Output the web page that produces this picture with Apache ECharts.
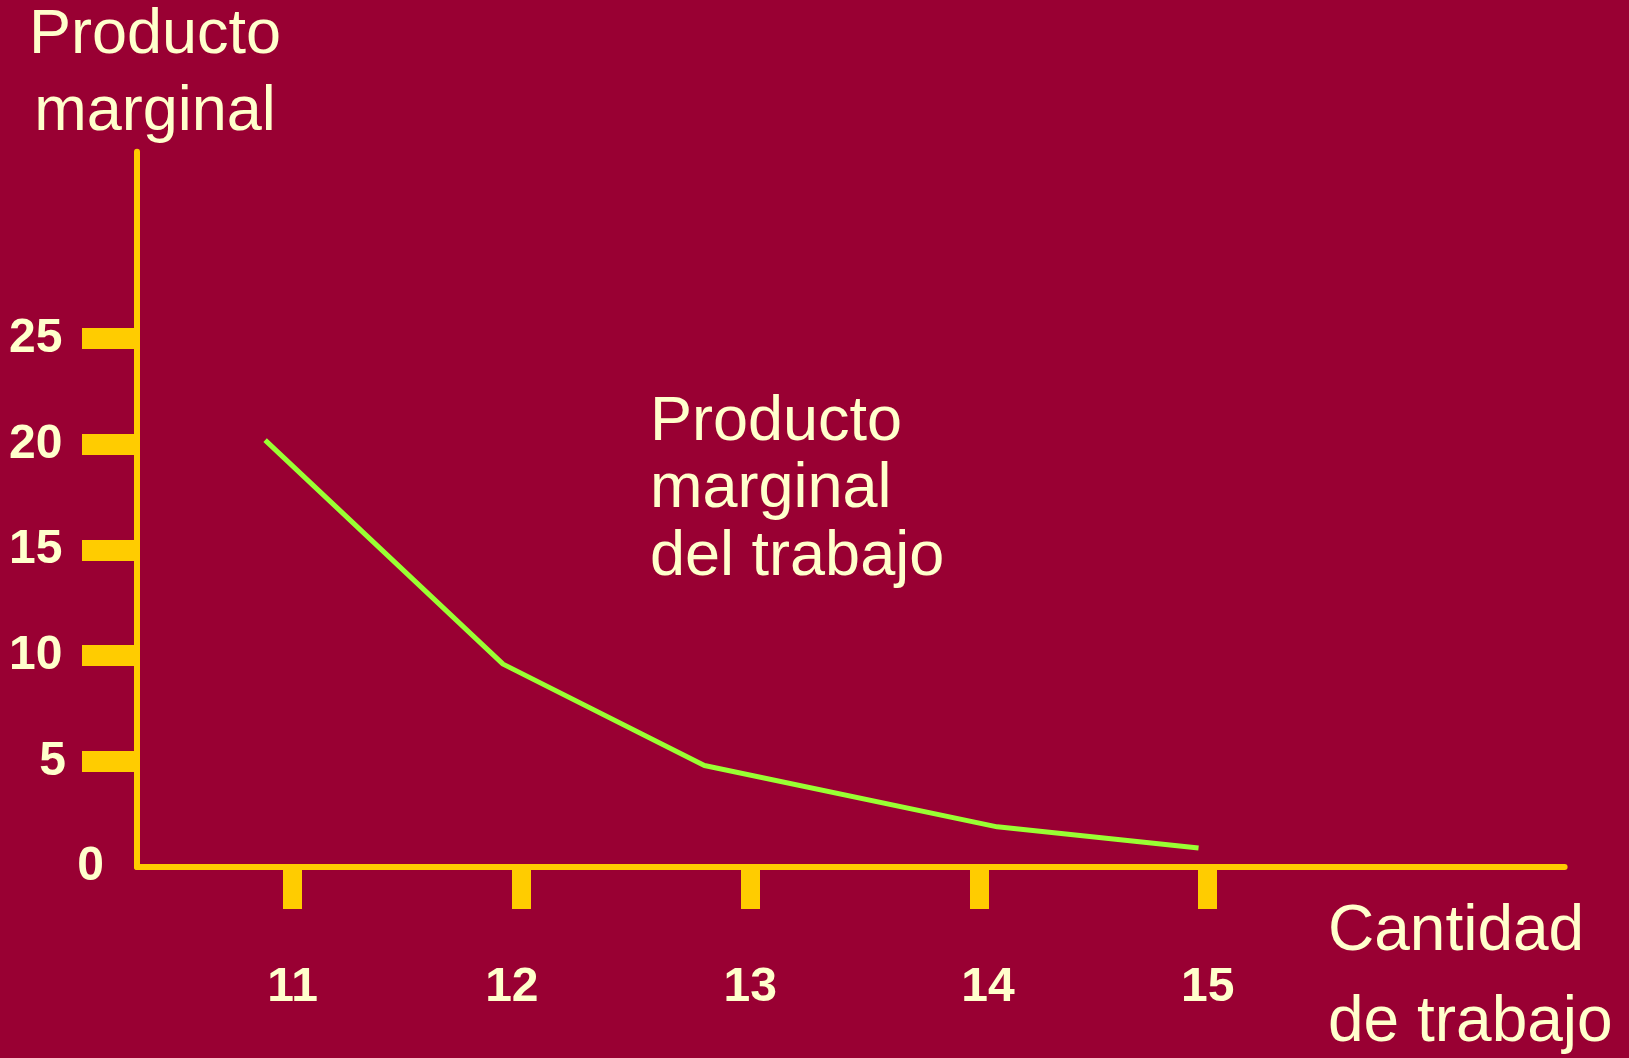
<!DOCTYPE html>
<html>
<head>
<meta charset="utf-8">
<style>
  html, body { margin: 0; padding: 0; background: #990033; }
  #chart { width: 1629px; height: 1058px; }
</style>
<script src="https://cdn.jsdelivr.net/npm/echarts@6.0.0/dist/echarts.min.js"></script>
</head>
<body>
<div id="chart"></div>
<script>
// Data
const laborQuantity = [10.88, 11.92, 12.80, 14.08, 14.96];
const marginalProduct = [20.2, 9.6, 4.8, 1.9, 0.9];
const xTickValues = [11, 12, 13, 14, 15];
const yTickValues = [5, 10, 15, 20, 25];
const yLabelValues = [0, 5, 10, 15, 20, 25];
const yAxisTitle = 'Producto\nmarginal';
const xAxisTitle = 'Cantidad\nde trabajo';
const curveTitle = 'Producto\nmarginal\ndel trabajo';

const BG = '#990033';
const AXIS = '#FFCC00';
const TEXT = '#FFFFCC';
const LINE = '#99FF33';
const FONT = '"Liberation Sans", Arial, sans-serif';

const chart = echarts.init(document.getElementById('chart'), null, { renderer: 'canvas' });

const numStyle = { color: TEXT, fontFamily: FONT, fontWeight: 'bold', fontSize: 48 };

const option = {
  backgroundColor: BG,
  animation: false,
  grid: {
    left: 137, right: 64.4, top: 151.7, bottom: 191,
    containLabel: false,
    outerBoundsMode: 'none'
  },
  xAxis: {
    type: 'value',
    min: 10.32,
    max: 16.56,
    splitLine: { show: false },
    axisLine: { show: true, onZero: false, lineStyle: { color: AXIS, width: 6 } },
    axisTick: {
      show: true, inside: false, length: 42,
      customValues: xTickValues,
      lineStyle: { color: AXIS, width: 19 }
    },
    axisLabel: {
      show: true,
      customValues: xTickValues,
      margin: 97,
      color: TEXT,
      fontFamily: FONT,
      fontWeight: 'bold',
      fontSize: 48,
      formatter: function (v) {
        if (v === 12) return '{l|12}';
        if (v === 14) return '{r|14}';
        return '{c|' + v + '}';
      },
      rich: {
        c: Object.assign({}, numStyle),
        l: Object.assign({ padding: [0, 19, 0, 0] }, numStyle),
        r: Object.assign({ padding: [0, 0, 0, 18] }, numStyle)
      }
    },
    name: xAxisTitle,
    nameLocation: 'end',
    nameGap: -236.6,
    nameTextStyle: {
      color: TEXT,
      fontFamily: FONT,
      fontSize: 64,
      lineHeight: 91,
      align: 'left',
      verticalAlign: 'top',
      padding: [19.5, 0, 0, 0]
    }
  },
  yAxis: {
    type: 'value',
    min: 0,
    max: 33.85,
    splitLine: { show: false },
    axisLine: { show: true, onZero: false, lineStyle: { color: AXIS, width: 6 } },
    axisTick: {
      show: true, inside: false, length: 55,
      customValues: yTickValues,
      lineStyle: { color: AXIS, width: 21 }
    },
    axisLabel: {
      show: true,
      customValues: yLabelValues,
      margin: 33,
      color: TEXT,
      fontFamily: FONT,
      fontWeight: 'bold',
      fontSize: 48,
      formatter: function (v) {
        if (v === 0) return '{z|0}';
        if (v === 5) return '{f|5}';
        return '{n|' + v + '}';
      },
      rich: {
        z: Object.assign({}, numStyle),
        f: Object.assign({ padding: [0, 38, 0, 0] }, numStyle),
        n: Object.assign({ padding: [0, 41.5, 0, 0] }, numStyle)
      }
    },
    name: yAxisTitle,
    nameLocation: 'end',
    nameGap: 1,
    nameTextStyle: {
      color: TEXT,
      fontFamily: FONT,
      fontSize: 63,
      lineHeight: 77,
      align: 'center',
      verticalAlign: 'bottom',
      padding: [0, 0, 0, 36]
    }
  },
  graphic: [
    {
      type: 'text',
      left: 650,
      top: 388.5,
      silent: true,
      style: {
        text: curveTitle,
        fill: TEXT,
        font: '63px ' + FONT,
        lineHeight: 67.5
      }
    }
  ],
  series: [
    {
      type: 'line',
      name: 'Producto marginal del trabajo',
      data: laborQuantity.map((x, i) => [x, marginalProduct[i]]),
      showSymbol: false,
      symbol: 'none',
      smooth: false,
      lineStyle: { color: LINE, width: 5 },
      z: 5
    }
  ]
};

chart.setOption(option);
</script>
</body>
</html>
